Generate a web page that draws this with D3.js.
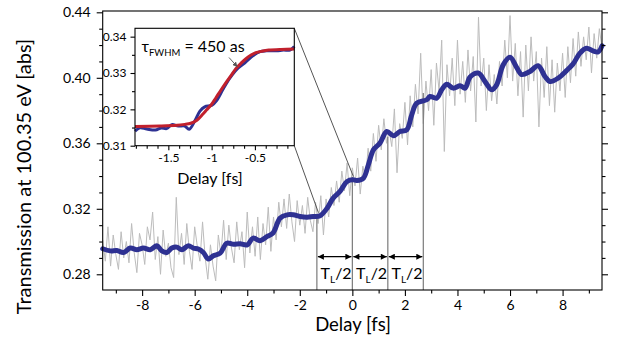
<!DOCTYPE html>
<html><head><meta charset="utf-8">
<script src="https://cdn.jsdelivr.net/npm/d3@7"></script>
<style>body{margin:0;background:#fff}svg{display:block}text{font-family:Lato,"Open Sans",sans-serif}</style>
</head><body><svg id="c" width="618" height="351"></svg>
<script>
// ---- data ----
const xTicks = [-8, -6, -4, -2, 0, 2, 4, 6, 8];
const yTicks = [0.28, 0.32, 0.36, 0.40, 0.44];
const insetXTicks = [-1.5, -1, -0.5];
const insetYTicks = [0.31, 0.32, 0.33, 0.34];

// raw (grey) trace, sampled every 0.1 fs from -9.5 fs
const grayStart = -9.5, grayStep = 0.1;
const grayValues = [
 0.301,0.288,0.309,0.285,0.304,0.292,0.283,0.306,0.290,0.300,
 0.287,0.311,0.293,0.281,0.305,0.298,0.286,0.309,0.301,0.318,
 0.289,0.303,0.280,0.307,0.291,0.299,0.284,0.278,0.327,0.292,
 0.305,0.286,0.311,0.294,0.283,0.309,0.297,0.288,0.312,0.290,
 0.277,0.298,0.285,0.276,0.304,0.292,0.313,0.289,0.310,0.296,
 0.287,0.312,0.295,0.306,0.284,0.318,0.293,0.309,0.291,0.315,
 0.289,0.311,0.298,0.321,0.294,0.315,0.301,0.324,0.309,0.326,
 0.308,0.329,0.312,0.300,0.325,0.310,0.322,0.305,0.327,0.313,
 0.306,0.324,0.311,0.328,0.304,0.326,0.315,0.333,0.322,0.337,
 0.324,0.343,0.331,0.348,0.328,0.345,0.334,0.351,0.329,0.346,
 0.338,0.357,0.343,0.366,0.349,0.371,0.356,0.375,0.360,0.368,
 0.358,0.381,0.342,0.372,0.363,0.385,0.359,0.389,0.370,0.396,
 0.378,0.415,0.372,0.398,0.380,0.405,0.371,0.409,0.392,0.423,
 0.355,0.408,0.389,0.412,0.383,0.423,0.390,0.410,0.385,0.417,
 0.392,0.413,0.373,0.437,0.395,0.412,0.380,0.408,0.386,0.402,
 0.384,0.410,0.395,0.423,0.400,0.438,0.398,0.421,0.389,0.416,
 0.376,0.420,0.392,0.425,0.398,0.416,0.370,0.412,0.388,0.419,
 0.383,0.411,0.379,0.409,0.392,0.415,0.388,0.419,0.397,0.424,
 0.401,0.428,0.407,0.425,0.411,0.431,0.403,0.427,0.412,0.430,
 0.418
];

// smoothed (blue) trace
const blueDelay = [-9.5,-9.21,-8.96,-8.71,-8.45,-8.20,-7.95,-7.69,-7.44,-7.25,-7.06,-6.87,-6.68,-6.49,-6.24,-6.05,-5.86,-5.67,-5.48,-5.29,-5.03,-4.78,-4.52,-4.27,-4.00,-3.78,-3.51,-3.24,-3.02,-2.75,-2.48,-2.25,-1.99,-1.72,-1.49,-1.23,-0.96,-0.73,-0.47,-0.20,0.03,0.17,0.42,0.61,0.80,1.05,1.31,1.56,1.81,2.07,2.26,2.45,2.83,2.95,3.21,3.40,3.59,3.84,4.10,4.29,4.48,4.79,5.05,5.30,5.49,5.74,6.00,6.25,6.44,6.76,7.07,7.33,7.52,7.83,8.15,8.40,8.66,8.91,9.16,9.35,9.50];
const blueValue = [0.2956,0.2943,0.2945,0.2933,0.2960,0.2950,0.2960,0.2950,0.2974,0.2943,0.2933,0.2960,0.2966,0.2950,0.2974,0.2960,0.2954,0.2933,0.2893,0.2913,0.2929,0.2990,0.2983,0.2986,0.2980,0.3021,0.3005,0.3031,0.3052,0.3143,0.3163,0.3163,0.3153,0.3149,0.3153,0.3157,0.3204,0.3265,0.3306,0.3367,0.3377,0.3373,0.3387,0.3469,0.3560,0.3601,0.3672,0.3646,0.3672,0.3682,0.3774,0.3845,0.3866,0.3886,0.3876,0.3927,0.3961,0.3937,0.3951,0.3937,0.4005,0.4029,0.3977,0.3927,0.3957,0.4079,0.4125,0.4064,0.4020,0.4039,0.4074,0.4008,0.3977,0.3998,0.4044,0.4085,0.4151,0.4181,0.4164,0.4158,0.4195];

// inset: zoomed smoothed data and fit
const insetBlueDelay = [-1.885,-1.83,-1.75,-1.65,-1.58,-1.52,-1.46,-1.385,-1.31,-1.26,-1.19,-1.135,-1.08,-1.0,-0.94,-0.865,-0.79,-0.71,-0.615,-0.52,-0.44,-0.365,-0.25,-0.17,-0.095,-0.045];
const insetBlueValue = [0.3140,0.3149,0.3146,0.3143,0.3149,0.3147,0.3158,0.3154,0.3154,0.3145,0.3170,0.3195,0.3207,0.3211,0.3225,0.3257,0.3286,0.3310,0.3328,0.3348,0.3359,0.3361,0.3361,0.3363,0.3363,0.3373];
const fitDelay = [-1.885,-1.6,-1.4,-1.3,-1.25,-1.17,-1.1,-1.06,-1.0,-0.95,-0.89,-0.83,-0.77,-0.72,-0.66,-0.6,-0.54,-0.49,-0.42,-0.34,-0.2,-0.045];
const fitValue = [0.3153,0.3154,0.3156,0.3159,0.3161,0.3170,0.3187,0.3198,0.3214,0.3232,0.3254,0.3275,0.3295,0.3312,0.3327,0.3340,0.3350,0.3356,0.3360,0.3363,0.3365,0.3366];

// half-period markers
const guideDelay = [-1.35, 0, 1.35, 2.7];
const guideTop = [0.3163, 0.3395, 0.3640, 0.3907];
const periodLabel = "T";
const periodSub = "L";
const periodTail = "/2";

// ---- drawing ----
const svg = d3.select("#c");
const W = {l:102.7, r:602, t:11, b:290};
const x = d3.scaleLinear().domain([-9.5, 9.5]).range([W.l, W.r]);
const y = d3.scaleLinear().domain([0.2704, 0.4408]).range([W.b, W.t]);

const defs = svg.append("defs");
function marker(id, color, w, h){
  defs.append("marker").attr("id", id).attr("viewBox","0 0 10 10").attr("refX",10).attr("refY",5)
    .attr("markerWidth", w).attr("markerHeight", h).attr("orient","auto-start-reverse").attr("markerUnits","userSpaceOnUse")
    .append("path").attr("d","M0,0 L10,5 L0,10 z").attr("fill", color);
}
marker("arr","#000",7,6);
marker("arrg","#555",5,5);

// grey raw data
const grayPts = grayValues.map((v,i)=>[grayStart + i*grayStep, v]);
const line = d3.line().x(d=>x(d[0])).y(d=>y(d[1]));
svg.append("path").datum(grayPts).attr("d", line).attr("fill","none").attr("stroke","#bcbcbc").attr("stroke-width",1);

// guides
guideDelay.forEach((g,i)=>{
  svg.append("line").attr("x1",x(g)).attr("x2",x(g)).attr("y1",W.b).attr("y2",y(guideTop[i]))
    .attr("stroke","#7a7a7a").attr("stroke-width",1.2);
});

// blue smoothed
const bluePts = blueDelay.map((d,i)=>[d, blueValue[i]]);
svg.append("path").datum(bluePts).attr("d", d3.line().curve(d3.curveCatmullRom).x(d=>x(d[0])).y(d=>y(d[1])))
  .attr("fill","none").attr("stroke","#2e3192").attr("stroke-width",5).attr("stroke-linejoin","round").attr("stroke-linecap","round");

// arrows + labels
const arrowY = 256.7;
for(let i=0;i<guideDelay.length-1;i++){
  const a = x(guideDelay[i]), b = x(guideDelay[i+1]);
  svg.append("line").attr("x1",a+1).attr("x2",b-1).attr("y1",arrowY).attr("y2",arrowY)
    .attr("stroke","#000").attr("stroke-width",1.3).attr("marker-start","url(#arr)").attr("marker-end","url(#arr)");
  const t = svg.append("text").attr("x",(a+b)/2+1.5).attr("y",278.5).attr("text-anchor","middle").attr("font-size",16).attr("fill","#000");
  t.append("tspan").text(periodLabel);
  t.append("tspan").attr("font-size",10).attr("dy",4).text(periodSub);
  t.append("tspan").attr("dy",-4).text(periodTail);
}

// frame
svg.append("rect").attr("x",W.l).attr("y",W.t).attr("width",W.r-W.l).attr("height",W.b-W.t)
  .attr("fill","none").attr("stroke","#000").attr("stroke-width",1.1);

function styleAxis(g){ g.select(".domain").remove(); g.selectAll("line").attr("stroke","#000").attr("stroke-width",1.1); g.selectAll("text").attr("fill","#000").style("font-family","Lato"); }

const yMinor = d3.range(0.28, 0.4401, 0.01).filter(v=>!yTicks.some(t=>Math.abs(t-v)<1e-6));
const xMinor = [-9, -7, -5, -3, -1, 1, 3, 5, 7, 9];

svg.append("g").attr("transform",`translate(${W.l},0)`).call(d3.axisLeft(y).tickValues(yTicks).tickSize(6).tickPadding(6).tickFormat(d3.format(".2f")))
  .attr("font-size",14).call(styleAxis);
svg.append("g").attr("transform",`translate(${W.l},0)`).call(d3.axisLeft(y).tickValues(yMinor).tickSize(3.5).tickFormat("")).call(styleAxis);
svg.append("g").attr("transform",`translate(${W.r},0)`).call(d3.axisRight(y).tickValues(yTicks).tickSize(6).tickFormat("")).call(styleAxis);
svg.append("g").attr("transform",`translate(${W.r},0)`).call(d3.axisRight(y).tickValues(yMinor).tickSize(3.5).tickFormat("")).call(styleAxis);
svg.append("g").attr("transform",`translate(0,${W.b})`).call(d3.axisBottom(x).tickValues(xTicks).tickSize(6).tickPadding(4).tickFormat(d=>d<0?"-"+Math.abs(d):d))
  .attr("font-size",14).call(styleAxis);
svg.append("g").attr("transform",`translate(0,${W.b})`).call(d3.axisBottom(x).tickValues(xMinor).tickSize(3.5).tickFormat("")).call(styleAxis);

svg.append("text").attr("x",353).attr("y",331).attr("text-anchor","middle").attr("font-size",18.5).text("Delay [fs]");
svg.append("text").attr("transform","translate(31,176.5) rotate(-90)").attr("text-anchor","middle").attr("font-size",20).text("Transmission at 100.35 eV [abs]");

// ---- inset ----
const I = {l:135, r:294.3, t:28.3, b:145.7};
const ix = d3.scaleLinear().domain([-1.885, -0.045]).range([I.l, I.r]);
const iy = d3.scaleLinear().domain([0.31, 0.3423]).range([I.b, I.t]);

// connectors
svg.append("line").attr("x1",I.r).attr("y1",I.t).attr("x2",x(0.04)).attr("y2",y(0.3397)).attr("stroke","#555").attr("stroke-width",1);
svg.append("line").attr("x1",I.r).attr("y1",I.b).attr("x2",x(-1.29)).attr("y2",y(0.3176)).attr("stroke","#555").attr("stroke-width",1);

svg.append("rect").attr("x",I.l).attr("y",I.t).attr("width",I.r-I.l).attr("height",I.b-I.t).attr("fill","#fff");
const ib = insetBlueDelay.map((d,i)=>[d, insetBlueValue[i]]);
const fp = fitDelay.map((d,i)=>[d, fitValue[i]]);
const iline = d3.line().curve(d3.curveCatmullRom).x(d=>ix(d[0])).y(d=>iy(d[1]));
svg.append("path").datum(ib).attr("d", iline).attr("fill","none").attr("stroke","#2e3192").attr("stroke-width",3);
svg.append("path").datum(fp).attr("d", iline).attr("fill","none").attr("stroke","#c1202d").attr("stroke-width",3);
svg.append("rect").attr("x",I.l).attr("y",I.t).attr("width",I.r-I.l).attr("height",I.b-I.t).attr("fill","none").attr("stroke","#000").attr("stroke-width",1.1);

const iyMinor = [0.315, 0.325, 0.335];
const ixMinor = [-1.875,-1.75,-1.625,-1.375,-1.25,-1.125,-0.875,-0.75,-0.625,-0.375,-0.25,-0.125];
svg.append("g").attr("transform",`translate(${I.l},0)`).call(d3.axisLeft(iy).tickValues(insetYTicks).tickSize(4.5).tickPadding(4).tickFormat(d3.format(".2f")))
  .attr("font-size",12).call(styleAxis);
svg.append("g").attr("transform",`translate(${I.l},0)`).call(d3.axisLeft(iy).tickValues(iyMinor).tickSize(3).tickFormat("")).call(styleAxis);
svg.append("g").attr("transform",`translate(0,${I.b})`).call(d3.axisBottom(ix).tickValues(insetXTicks).tickSize(4.5).tickPadding(3).tickFormat(d=>"-"+Math.abs(d)))
  .attr("font-size",12).call(styleAxis);
svg.append("g").attr("transform",`translate(0,${I.b})`).call(d3.axisBottom(ix).tickValues(ixMinor).tickSize(3).tickFormat("")).call(styleAxis);
svg.append("text").attr("x",210).attr("y",183.5).attr("text-anchor","middle").attr("font-size",16).text("Delay [fs]");

const tau = svg.append("text").attr("x",141.5).attr("y",51.5).attr("font-size",16);
tau.append("tspan").text("τ");
tau.append("tspan").attr("font-size",9.5).attr("dy",4.5).text("FWHM");
tau.append("tspan").attr("dy",-4.5).text(" = 450 as");
svg.append("line").attr("x1",229).attr("y1",57.5).attr("x2",237.5).attr("y2",67).attr("stroke","#555").attr("stroke-width",0.9).attr("marker-end","url(#arrg)");
</script></body></html>
